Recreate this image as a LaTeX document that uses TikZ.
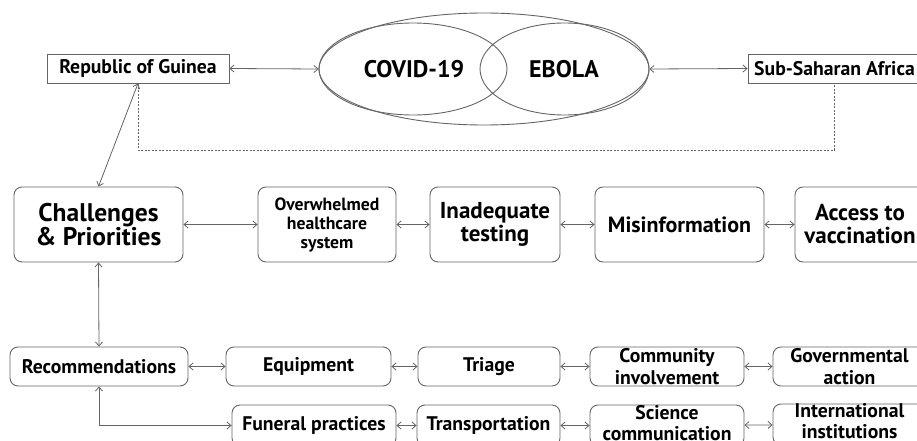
\documentclass[tikz,border=0pt]{standalone}
\usepackage{fontspec}
\setmainfont{PT Sans}
\usetikzlibrary{shapes.geometric,arrows.meta}
\definecolor{lc}{HTML}{656565}
\begin{document}
\begin{tikzpicture}[x=1pt,y=-1pt,
  box/.style={draw=lc,rounded corners=8pt,line width=0.9pt,align=center,inner sep=0pt,font=\bfseries},
  sqbox/.style={draw=lc,line width=0.9pt,align=center,inner sep=0pt,font=\bfseries},
  ell/.style={draw=lc,ellipse,line width=0.9pt,inner sep=0pt},
  conn/.style={draw=lc,line width=0.8pt,{Straight Barb[length=4pt,width=7pt]}-{Straight Barb[length=4pt,width=7pt]}},
  dots/.style={draw=lc,line width=0.8pt,dash pattern=on 2pt off 1.5pt},
  fs/.style={font=\bfseries\fontsize{19.7}{21.5}\selectfont},
  fxs/.style={font=\bfseries\fontsize{17.7}{19}\selectfont},
  fm/.style={font=\bfseries\fontsize{23}{23}\selectfont},
  fmi/.style={font=\bfseries\fontsize{22}{23}\selectfont},
  fl/.style={font=\bfseries\fontsize{25.5}{24.5}\selectfont},
  fe/.style={font=\bfseries\fontsize{24}{25}\selectfont},
  txt/.style={align=center,inner sep=0pt}
]
\useasboundingbox (0,0) rectangle (917,441);
\clip (0,0) rectangle (917,441);
\fill[white] (0,0) rectangle (917,441);

% top row
\node[sqbox,fs,minimum width=182pt,minimum height=29pt] (guinea) at (138,68.5) {Republic of Guinea};
\node[sqbox,fs,minimum width=173pt,minimum height=29pt] (ssa) at (834.5,68.5) {Sub-Saharan Africa};
\node[ell,minimum width=330pt,minimum height=112pt] (outer) at (484,69) {};
\node[ell,minimum width=188pt,minimum height=92pt] (covid) at (413,69) {};
\node[ell,minimum width=169pt,minimum height=92pt] (ebola) at (564.5,69) {};
\node[fe] (covidt) at (414,69) {COVID-19};
\node[fe] (ebolat) at (564,69) {EBOLA};

\draw[conn] (guinea.east) -- (outer.west);
\draw[conn] (outer.east) -- (ssa.west);
\coordinate (dl) at (0,150);
\draw[dots] (guinea.south) -- (guinea.south |- dl) -| (ssa.south);

% middle row
\node[box,fl,minimum width=169pt,minimum height=75pt] (chal) at (98.5,224.5) {Challenges\\\& Priorities};
\node[box,fxs,minimum width=138pt,minimum height=75pt] (over) at (327,224.5) {Overwhelmed\\healthcare\\system};
\node[box,fm,minimum width=130pt,minimum height=75pt] (inad) at (495,224.5) {Inadequate\\testing};
\node[box,fmi,minimum width=169pt,minimum height=75pt] (misi) at (679.5,224.5) {Misinformation};
\node[box,fm,minimum width=130pt,minimum height=75pt] (acc) at (860,224.5) {Access to\\vaccination};

\draw[conn] (chal) -- (over);
\draw[conn] (over) -- (inad);
\draw[conn] (inad) -- (misi);
\draw[conn] (misi) -- (acc);
\draw[conn] (chal.north) -- (guinea.south);

% bottom row 1
\node[box,fs,minimum width=178pt,minimum height=39pt] (rec) at (99,366.5) {Recommendations};
\node[box,fs,minimum width=165pt,minimum height=39pt] (equip) at (308.5,366.5) {Equipment};
\node[box,fs,minimum width=142pt,minimum height=39pt] (tri) at (489,366.5) {Triage};
\node[box,fs,minimum width=154pt,minimum height=39pt] (comm) at (667,366.5) {Community\\involvement};
\node[box,fs,minimum width=153pt,minimum height=39pt] (gov) at (849.5,366.5) {Governmental\\action};

\draw[conn] (chal.south) -- (rec.north);
\draw[conn] (rec) -- (equip);
\draw[conn] (equip) -- (tri);
\draw[conn] (tri) -- (comm);
\draw[conn] (comm) -- (gov);

% bottom row 2
\node[box,fs,minimum width=164pt,minimum height=41pt] (fun) at (314,425.5) {Funeral practices};
\node[box,fs,minimum width=143pt,minimum height=41pt] (trans) at (488.5,425.5) {Transportation};
\node[box,minimum width=154pt,minimum height=41pt] (sci) at (667,425.5) {};
\node[txt,fs] (scit) at (667,423) {Science\\communication};
\node[box,minimum width=153pt,minimum height=41pt] (intl) at (849.5,424.5) {};
\node[txt,fs] (intlt) at (849.5,421) {International\\institutions};

\draw[conn] (fun) -- (trans);
\draw[conn] (trans) -- (sci);
\draw[conn] (sci) -- (intl);
\draw[conn] (rec.south) |- (fun.west);
\end{tikzpicture}
\end{document}
